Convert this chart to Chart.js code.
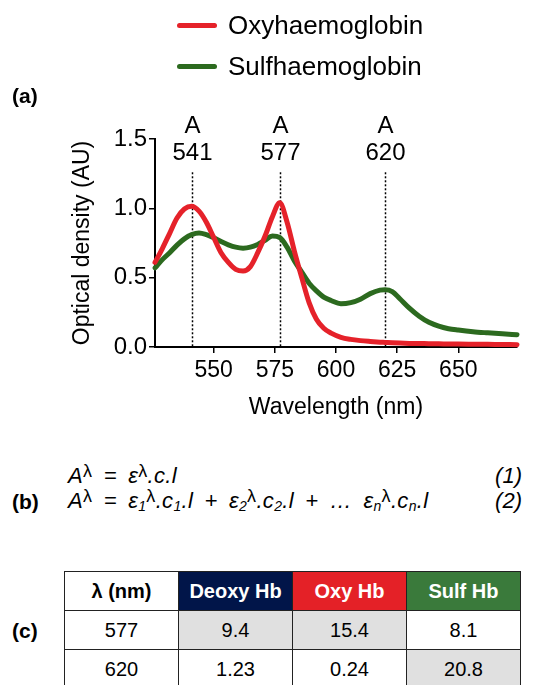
<!DOCTYPE html>
<html>
<head>
<meta charset="utf-8">
<script src="https://cdn.jsdelivr.net/npm/chart.js@4"></script>
<style>
  html, body { margin: 0; padding: 0; background: #fff; }
  body { width: 539px; height: 685px; overflow: hidden; position: relative; font-family: "Liberation Sans", Arial, sans-serif; color: #000; }
  #chartCanvas { position: absolute; left: 0; top: 0; }
  .panel { position: absolute; left: 12px; font-weight: bold; font-size: 21px; }
  .legend-item { position: absolute; left: 177px; height: 30px; display: flex; align-items: center; font-size: 26px; }
  .legend-item .swatch { width: 40px; height: 5px; border-radius: 3px; margin-right: 11px; }
  .eq { position: absolute; left: 68px; font-size: 22px; line-height: 26px; font-style: italic; white-space: nowrap; word-spacing: 5px; letter-spacing: 0.3px; }
  .eq .up { font-style: normal; font-size: 18px; position: relative; top: -6px; }
  .eq .dn { font-size: 14px; position: relative; top: 3px; }
  .eqn { position: absolute; right: 17px; font-size: 22px; line-height: 26px; font-style: italic; }
  table { position: absolute; left: 64px; top: 571px; border-collapse: collapse; font-size: 20px; }
  td { width: 113px; height: 38px; border: 1.5px solid #222; text-align: center; padding: 0; }
  th { width: 113px; height: 38px; border: 1.5px solid #222; text-align: center; padding: 0; font-size: 20px; }
</style>
</head>
<body>
<canvas id="chartCanvas" width="539" height="427"></canvas>
<div id="legend"></div>
<div class="panel" style="top:84px">(a)</div>
<div class="panel" style="top:490px">(b)</div>
<div class="panel" style="top:619px">(c)</div>

<div class="eq" style="top:463px"><span>A</span><span class="up">λ</span> = ε<span class="up">λ</span>.c.l</div>
<div class="eqn" style="top:463px">(1)</div>
<div class="eq" style="top:488px">A<span class="up">λ</span> = ε<span class="dn">1</span><span class="up">λ</span>.c<span class="dn">1</span>.l + ε<span class="dn">2</span><span class="up">λ</span>.c<span class="dn">2</span>.l + … ε<span class="dn">n</span><span class="up">λ</span>.c<span class="dn">n</span>.l</div>
<div class="eqn" style="top:488px">(2)</div>

<table id="coefTable"></table>

<script>
"use strict";

// spectra
const wavelengths = [526, 529, 532, 535, 538, 541, 544, 547, 550, 553, 556, 559, 562, 565, 568, 571, 574, 577, 580, 583,
  586, 589, 592, 595, 598, 602, 606, 610, 614, 618, 620, 623, 626, 630, 634, 638, 642, 646, 650, 656, 662, 668, 674];
const oxyValues = [0.61, 0.71, 0.82, 0.93, 0.995, 1.015, 0.98, 0.9, 0.79, 0.68, 0.61, 0.56, 0.548, 0.58, 0.68, 0.8, 0.94, 1.04, 0.9, 0.69,
  0.5, 0.32, 0.2, 0.135, 0.1, 0.07, 0.055, 0.046, 0.04, 0.035, 0.033, 0.03, 0.028, 0.026, 0.025, 0.024, 0.023, 0.022, 0.021, 0.02, 0.019, 0.018, 0.017];
const sulfValues = [0.57, 0.63, 0.68, 0.735, 0.78, 0.81, 0.822, 0.81, 0.788, 0.76, 0.737, 0.72, 0.713, 0.72, 0.74, 0.77, 0.8, 0.79, 0.72, 0.62,
  0.54, 0.46, 0.405, 0.36, 0.335, 0.312, 0.32, 0.345, 0.385, 0.41, 0.413, 0.4, 0.35, 0.28, 0.222, 0.178, 0.15, 0.132, 0.122, 0.11, 0.102, 0.095, 0.089];

const seriesLabels = ["Oxyhaemoglobin", "Sulfhaemoglobin"];
const seriesColors = ["#e5222a", "#2c6a1f"];

const xTicks = [550, 575, 600, 625, 650];
const yTicks = [0, 0.5, 1.0, 1.5];
const peakWavelengths = [541, 577, 620];
const peakLineTop = 1.26;

// table (c)
const tableHeader = ["λ (nm)", "Deoxy Hb", "Oxy Hb", "Sulf Hb"];
const headerColors = ["#ffffff", "#011549", "#e42127", "#3a7a3b"];
const tableRows = [
  ["577", "9.4", "15.4", "8.1"],
  ["620", "1.23", "0.24", "20.8"],
];
const shadedCells = [[0, 1], [0, 2], [1, 3]];

const FONT = "'Liberation Sans', Arial, sans-serif";

const peakPlugin = {
  id: "peakMarkers",
  beforeDatasetsDraw(chart) {
    const { ctx, chartArea, scales } = chart;
    ctx.save();
    peakWavelengths.forEach((p) => {
      const x = Math.round(scales.x.getPixelForValue(p)) + 0.5;
      ctx.strokeStyle = "#000";
      ctx.lineWidth = 1.5;
      ctx.setLineDash([2, 2]);
      ctx.beginPath();
      ctx.moveTo(x, scales.y.getPixelForValue(peakLineTop));
      ctx.lineTo(x, chartArea.bottom);
      ctx.stroke();

      ctx.setLineDash([]);
      ctx.fillStyle = "#000";
      ctx.font = "24px " + FONT;
      ctx.textAlign = "center";
      ctx.textBaseline = "middle";
      ctx.fillText("A", x, chartArea.top - 13);
      ctx.fillText(String(p), x, chartArea.top + 14);
    });
    ctx.restore();
  },
};

const ctx = document.getElementById("chartCanvas").getContext("2d");

const chart = new Chart(ctx, {
  type: "line",
  data: {
    labels: wavelengths,
    datasets: [oxyValues, sulfValues].map((vals, i) => ({
      label: seriesLabels[i],
      data: vals.map((v, j) => ({ x: wavelengths[j], y: v })),
      borderColor: seriesColors[i],
      backgroundColor: seriesColors[i],
      borderWidth: 5,
      pointRadius: 0,
      cubicInterpolationMode: "monotone",
      borderCapStyle: "round",
      borderJoinStyle: "round",
      clip: 6,
    })),
  },
  options: {
    responsive: false,
    animation: false,
    layout: { padding: { top: 139, right: 22, left: 0, bottom: 0 } },
    plugins: {
      legend: { display: false },
      tooltip: { enabled: false },
    },
    scales: {
      x: {
        type: "linear",
        min: 526,
        max: 674,
        afterBuildTicks: (scale) => {
          scale.ticks = xTicks.map((v) => ({ value: v }));
        },
        afterFit: (scale) => {
          scale.height = 80;
        },
        grid: { display: true, drawOnChartArea: false, color: "#000", lineWidth: 1.5, tickLength: 6 },
        border: { color: "#000", width: 2 },
        ticks: { color: "#000", font: { family: FONT, size: 23 }, padding: 4, maxRotation: 0 },
        title: {
          display: true,
          text: "Wavelength (nm)",
          color: "#000",
          font: { family: FONT, size: 23 },
          padding: { top: 0, bottom: 6 },
        },
      },
      y: {
        min: 0,
        max: 1.5,
        afterBuildTicks: (scale) => {
          scale.ticks = yTicks.map((v) => ({ value: v }));
        },
        afterFit: (scale) => {
          scale.width = 155;
        },
        grid: { display: true, drawOnChartArea: false, color: "#000", lineWidth: 1.5, tickLength: 6 },
        border: { color: "#000", width: 2 },
        ticks: {
          color: "#000",
          font: { family: FONT, size: 24 },
          padding: 2,
          callback: (v) => Number(v).toFixed(1),
        },
        title: {
          display: true,
          text: "Optical density (AU)",
          color: "#000",
          font: { family: FONT, size: 23 },
          padding: { top: 69, bottom: 0 },
        },
      },
    },
  },
  plugins: [peakPlugin],
});

// legend built from the chart's datasets
const legendEl = document.getElementById("legend");
chart.data.datasets.forEach((ds, i) => {
  const item = document.createElement("div");
  item.className = "legend-item";
  item.style.top = (10 + i * 41) + "px";
  const sw = document.createElement("span");
  sw.className = "swatch";
  sw.style.background = ds.borderColor;
  const txt = document.createElement("span");
  txt.textContent = ds.label;
  item.appendChild(sw);
  item.appendChild(txt);
  legendEl.appendChild(item);
});

// table
const table = document.getElementById("coefTable");
const headRow = document.createElement("tr");
tableHeader.forEach((h, i) => {
  const th = document.createElement("th");
  th.textContent = h;
  th.style.background = headerColors[i];
  th.style.color = i === 0 ? "#000" : "#fff";
  headRow.appendChild(th);
});
table.appendChild(headRow);
tableRows.forEach((row, r) => {
  const tr = document.createElement("tr");
  row.forEach((cell, c) => {
    const td = document.createElement("td");
    td.textContent = cell;
    const shaded = shadedCells.some(([sr, sc]) => sr === r && sc === c);
    td.style.background = shaded ? "#e0e0e0" : "#fff";
    tr.appendChild(td);
  });
  table.appendChild(tr);
});
</script>
</body>
</html>
